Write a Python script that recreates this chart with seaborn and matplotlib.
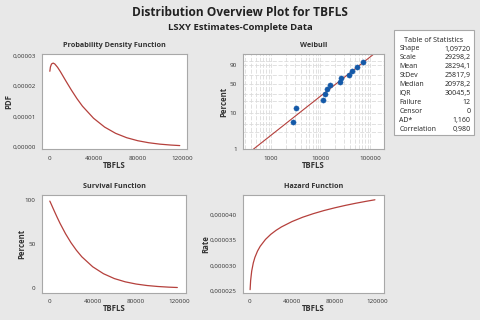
import matplotlib
matplotlib.use('Agg')
import matplotlib.pyplot as plt
import matplotlib.ticker as mticker
import numpy as np
import pandas as pd
import seaborn as sns

# values
tbfls = [500, 1000, 2000, 3500, 5000, 7500, 10000, 15000, 20000, 25000, 30000,
         40000, 50000, 60000, 70000, 80000, 90000, 100000, 110000, 118000]
pdf_vals = [2.49e-5, 2.63e-5, 2.73e-5, 2.76e-5, 2.73e-5, 2.62e-5, 2.48e-5, 2.17e-5,
            1.87e-5, 1.59e-5, 1.34e-5, 0.944e-5, 0.653e-5, 0.446e-5, 0.302e-5,
            0.203e-5, 0.136e-5, 0.090e-5, 0.060e-5, 0.043e-5]
surv_vals = [98.9, 97.6, 94.9, 90.7, 86.6, 79.9, 73.5, 61.9, 51.8, 43.2, 35.8,
             24.5, 16.6, 11.1, 7.43, 4.93, 3.25, 2.14, 1.40, 0.99]
hazard_vals = [2.52e-5, 2.70e-5, 2.885e-5, 3.046e-5, 3.154e-5, 3.28e-5, 3.373e-5,
               3.509e-5, 3.609e-5, 3.688e-5, 3.754e-5, 3.86e-5, 3.945e-5, 4.015e-5,
               4.076e-5, 4.129e-5, 4.177e-5, 4.22e-5, 4.259e-5, 4.288e-5]

fail_times = [2780, 3250, 11230, 12330, 13710, 15560, 24770, 26310, 38180, 43890, 53800, 72200]
fail_pct = [5.6, 13.7, 21.8, 29.8, 37.9, 46.0, 54.0, 62.1, 70.2, 78.2, 86.3, 94.4]
fit_x = [440, 118000]
fit_pct = [1, 99]

stat_names = ['Shape', 'Scale', 'Mean', 'StDev', 'Median', 'IQR', 'Failure', 'Censor', 'AD*', 'Correlation']
stat_values = ['1,09720', '29298,2', '28294,1', '25817,9', '20978,2', '30045,5', '12', '0', '1,160', '0,980']

curves = pd.DataFrame({'TBFLS': tbfls, 'PDF': pdf_vals, 'Survival': surv_vals, 'Rate': hazard_vals})
points = pd.DataFrame({'TBFLS': fail_times, 'Percent': fail_pct})
fitline = pd.DataFrame({'TBFLS': fit_x, 'Percent': fit_pct})

sns.set_theme(style='white')
plt.rcParams['font.family'] = ['Open Sans', 'DejaVu Sans']

bg = '#e8e8e8'
red = '#b5403c'
blue = '#1459a8'
frame = '#a8a8a8'
txt = '#333333'

fig = plt.figure(figsize=(4.8, 3.2), dpi=100, facecolor=bg)
ax_pdf = fig.add_axes([0.0875, 0.5334, 0.302, 0.297])
ax_wb = fig.add_axes([0.506, 0.5334, 0.294, 0.297])
ax_sv = fig.add_axes([0.0875, 0.0853, 0.300, 0.305])
ax_hz = fig.add_axes([0.506, 0.0853, 0.295, 0.305])

def comma(fmt):
    return mticker.FuncFormatter(lambda v, p: format(v, fmt).replace('.', ','))

def style(ax, title, ylabel, ylab_x, xlab_y):
    ax.set_facecolor('white')
    for s in ax.spines.values():
        s.set_color(frame)
        s.set_linewidth(0.8)
    ax.tick_params(axis='both', which='major', labelsize=4.5, length=2.5, width=0.6,
                   color='#555555', labelcolor=txt, pad=2, direction='out')
    ax.tick_params(axis='both', which='minor', length=0)
    ax.set_title(title, fontsize=5.2, fontweight='bold', color=txt, pad=5)
    ax.set_xlabel('TBFLS', fontsize=5.6, fontweight='bold', color=txt)
    ax.set_ylabel(ylabel, fontsize=5.6, fontweight='bold', color=txt)
    ax.yaxis.set_label_coords(ylab_x, 0.5)
    ax.xaxis.set_label_coords(0.5, xlab_y)

# PDF
sns.lineplot(data=curves, x='TBFLS', y='PDF', ax=ax_pdf, color=red, lw=0.9)
ax_pdf.set_xlim(-6600, 124500)
ax_pdf.set_ylim(-0.08e-5, 3.05e-5)
ax_pdf.set_xticks([0, 40000, 80000, 120000])
ax_pdf.set_yticks([0, 1e-5, 2e-5, 3e-5])
ax_pdf.yaxis.set_major_formatter(comma('.5f'))
style(ax_pdf, 'Probability Density Function', 'PDF', -0.20, -0.12)

# Survival
sns.lineplot(data=curves, x='TBFLS', y='Survival', ax=ax_sv, color=red, lw=0.9)
ax_sv.set_xlim(-6700, 126000)
ax_sv.set_ylim(-4.9, 105.7)
ax_sv.set_xticks([0, 40000, 80000, 120000])
ax_sv.set_yticks([0, 50, 100])
style(ax_sv, 'Survival Function', 'Percent', -0.11, -0.115)

# Hazard
sns.lineplot(data=curves, x='TBFLS', y='Rate', ax=ax_hz, color=red, lw=0.9)
ax_hz.set_xlim(-6300, 127000)
ax_hz.set_ylim(2.46e-5, 4.38e-5)
ax_hz.set_xticks([0, 40000, 80000, 120000])
ax_hz.set_yticks([2.5e-5, 3.0e-5, 3.5e-5, 4.0e-5])
ax_hz.yaxis.set_major_formatter(comma('.6f'))
style(ax_hz, 'Hazard Function', 'Rate', -0.227, -0.115)

# Weibull probability plot
def wb_fwd(p):
    p = np.clip(np.asarray(p, dtype=float), 1e-6, 100 - 1e-6)
    return np.log(-np.log(1 - p / 100.0))

def wb_inv(y):
    return 100.0 * (1 - np.exp(-np.exp(y)))

ax_wb.set_xscale('log')
ax_wb.set_yscale('function', functions=(wb_fwd, wb_inv))
ax_wb.set_xlim(272, 192000)
ax_wb.set_ylim(1, 99)
ax_wb.set_yticks([1, 10, 50, 90])
ax_wb.set_yticks([3, 5, 20, 30, 70, 95, 99], minor=True)
ax_wb.set_xticks([1000, 10000, 100000])
ax_wb.xaxis.set_minor_locator(mticker.LogLocator(base=10, subs=np.arange(2, 10)))
ax_wb.xaxis.set_major_formatter(mticker.FuncFormatter(lambda v, p: f'{v:.0f}'))
ax_wb.yaxis.set_major_formatter(mticker.FuncFormatter(lambda v, p: f'{v:.0f}'))
ax_wb.xaxis.set_minor_formatter(mticker.NullFormatter())
ax_wb.yaxis.set_minor_formatter(mticker.NullFormatter())
ax_wb.grid(True, which='both', color='#dcdcdc', lw=0.6, linestyle=(0, (5, 2)))
ax_wb.set_axisbelow(True)
sns.lineplot(data=fitline, x='TBFLS', y='Percent', ax=ax_wb, color=red, lw=0.8)
sns.scatterplot(data=points, x='TBFLS', y='Percent', ax=ax_wb, color=blue, s=14,
                edgecolor=blue, linewidth=0.3, zorder=3)
style(ax_wb, 'Weibull', 'Percent', -0.106, -0.12)

# titles
fig.text(0.5, 0.961, 'Distribution Overview Plot for TBFLS', ha='center', va='center',
         fontsize=8.6, fontweight='bold', color='#222222')
fig.text(0.5, 0.914, 'LSXY Estimates-Complete Data', ha='center', va='center',
         fontsize=6.8, fontweight='bold', color='#222222')

# table of statistics
box = plt.Rectangle((0.821, 0.578), 0.1665, 0.328, transform=fig.transFigure,
                    facecolor='white', edgecolor=frame, lw=0.8)
fig.add_artist(box)
fig.text(0.904, 1 - 40 / 320, 'Table of Statistics', ha='center', va='center',
         fontsize=5.2, color='#222222')
for i, (n, v) in enumerate(zip(stat_names, stat_values)):
    y = 1 - (49 + 8.9 * i) / 320
    fig.text(399.3 / 480, y, n, ha='left', va='center', fontsize=5.0, color='#222222')
    fig.text(470.5 / 480, y, v, ha='right', va='center', fontsize=5.0, color='#222222')

fig.savefig('out.png', dpi=100, facecolor=bg)
